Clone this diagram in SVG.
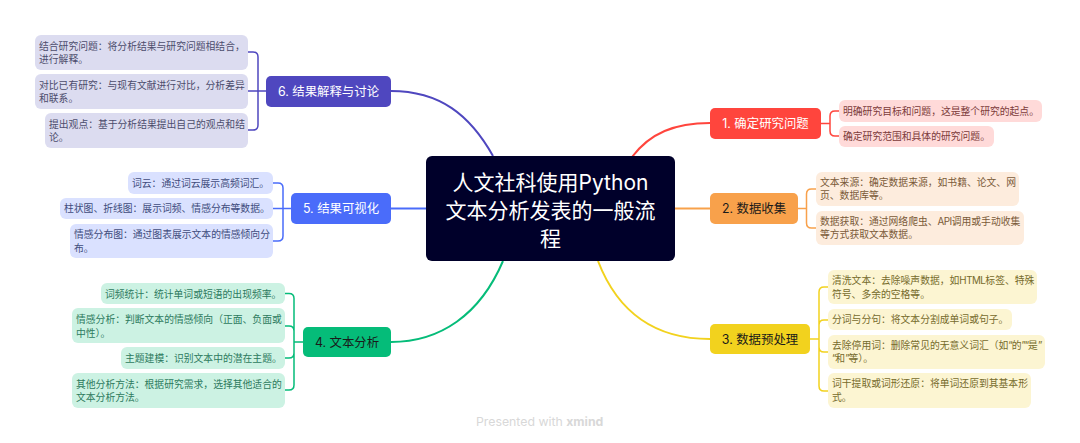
<svg xmlns="http://www.w3.org/2000/svg" width="1080" height="443" viewBox="0 0 1080 443">
<style>
text{font-family:Inter,"Noto Sans CJK SC","Noto Sans",sans-serif}
.c{font-size:9.8px}
.t{font-size:12.4px;text-anchor:middle}
.w{fill:#fff}.k{fill:#1a1a1a}
.l{fill:none}
.m{stroke-width:2}
.b{stroke-width:1.500}
.q{letter-spacing:-1px}
.n{letter-spacing:-.5px}
.c1{fill:#ffdad9}.x1{fill:#7c3b3a}
.c2{fill:#fdecdd}.x2{fill:#7a5a38}
.c3{fill:#fcf5d2}.x3{fill:#766b2c}
.c4{fill:#ccf2e3}.x4{fill:#2c7a5e}
.c5{fill:#dae1ff}.x5{fill:#404c7c}
.c6{fill:#dcdcf0}.x6{fill:#4c4c6c}
</style>
<rect width="1080" height="443" fill="#fff"/>
<g id="connectors">
<g class="l" stroke="#ff453d"><path class="m" d="M632 157C650 133 675 123 710 123"/><path class="b" d="M821 123.500H830M839 111H835Q830 111 830 116V131Q830 136 835 136H839"/></g>
<g class="l" stroke="#f8a14b"><path class="m" d="M675 208.500H710"/><path class="b" d="M798 208.500H806.500M816 189H811.500Q806.500 189 806.500 194V223Q806.500 228 811.500 228H816"/></g>
<g class="l" stroke="#f2d21e"><path class="m" d="M598 261C620 318 660 339 710 339"/><path class="b" d="M810 339H819M828 287H824Q819 287 819 292V386Q819 391 824 391H828M819 325Q819 320 824 320H828M819 347Q819 352 824 352H828"/></g>
<g class="l" stroke="#05bc79"><path class="m" d="M503 261C480 315 440 342 391 342"/><path class="b" d="M303 342H294M285 293.500H289Q294 293.500 294 298.500V385Q294 390 289 390H285M294 331Q294 326 289 326H285M294 353Q294 358 289 358H285"/></g>
<g class="l" stroke="#4a6cfa"><path class="m" d="M426 208.500H391"/><path class="b" d="M291 208.500H273M273 183H278Q283 183 283 188V236Q283 241 278 241H273"/></g>
<g class="l" stroke="#4f47bf"><path class="m" d="M493 156C470 115 440 91 391 91"/><path class="b" d="M266 91H248M248 52H253Q258 52 258 57V125Q258 130 253 130H248"/></g>
</g>
<g id="root"><rect x="426" y="156" width="249" height="105" rx="6" fill="#00002a"/>
<g font-size="21" text-anchor="middle" fill="#fff"><text x="550.500" y="190">人文社科使用Python</text><text x="550.500" y="218">文本分析发表的一般流</text><text x="550.500" y="246">程</text></g></g>
<g id="n1"><rect x="710" y="108" width="111" height="31" rx="5" fill="#ff453d"/><text class="t w" x="765.500" y="128">1. 确定研究问题</text></g>
<g id="n1a"><rect class="c1" x="839" y="100" width="203" height="22" rx="6"/><text class="c x1" x="843" y="114.500">明确研究目标和问题，这是整个研究的起点。</text></g>
<g id="n1b"><rect class="c1" x="839" y="126" width="155" height="21" rx="6"/><text class="c x1" x="843" y="140">确定研究范围和具体的研究问题。</text></g>
<g id="n2"><rect x="710" y="193" width="88" height="31" rx="5" fill="#f8a14b"/><text class="t k" x="754" y="213">2. 数据收集</text></g>
<g id="n2a"><rect class="c2" x="816" y="172" width="203" height="34" rx="6"/><text class="c x2" x="820" y="186">文本来源：确定数据来源，如书籍、论文、网</text><text class="c x2" x="820" y="199">页、数据库等。</text></g>
<g id="n2b"><rect class="c2" x="816" y="211" width="208" height="34" rx="6"/><text class="c x2" x="820" y="225">数据获取：通过网络爬虫、<tspan class="n">API</tspan>调用或手动收集</text><text class="c x2" x="820" y="238">等方式获取文本数据。</text></g>
<g id="n3"><rect x="710" y="324" width="100" height="30" rx="5" fill="#f2d21e"/><text class="t k" x="760" y="344">3. 数据预处理</text></g>
<g id="n3a"><rect class="c3" x="828" y="270" width="209" height="34" rx="6"/><text class="c x3" x="832" y="284">清洗文本：去除噪声数据，如<tspan class="n">HTML</tspan>标签、特殊</text><text class="c x3" x="832" y="298">符号、多余的空格等。</text></g>
<g id="n3b"><rect class="c3" x="828" y="309" width="184" height="21" rx="6"/><text class="c x3" x="832" y="323">分词与分句：将文本分割成单词或句子。</text></g>
<g id="n3c"><rect class="c3" x="828" y="335" width="217" height="34" rx="6"/><text class="c x3" x="832" y="349">去除停用词：删除常见的无意义词汇（如<tspan class="q">“</tspan>的<tspan class="q">”“</tspan>是<tspan class="q">”</tspan></text><text class="c x3" x="832" y="362"><tspan class="q">“</tspan>和<tspan class="q">”</tspan>等）。</text></g>
<g id="n3d"><rect class="c3" x="828" y="373" width="203" height="35" rx="6"/><text class="c x3" x="832" y="387">词干提取或词形还原：将单词还原到其基本形</text><text class="c x3" x="832" y="401">式。</text></g>
<g id="n4"><rect x="303" y="327" width="88" height="30" rx="5" fill="#05bc79"/><text class="t k" x="347" y="347">4. 文本分析</text></g>
<g id="n4a"><rect class="c4" x="101" y="283" width="184" height="21" rx="6"/><text class="c x4" x="105" y="298">词频统计：统计单词或短语的出现频率。</text></g>
<g id="n4b"><rect class="c4" x="72" y="308" width="213" height="35" rx="6"/><text class="c x4" x="76" y="323">情感分析：判断文本的情感倾向（正面、负面或</text><text class="c x4" x="76" y="337">中性）。</text></g>
<g id="n4c"><rect class="c4" x="121" y="347" width="164" height="22" rx="6"/><text class="c x4" x="125" y="362">主题建模：识别文本中的潜在主题。</text></g>
<g id="n4d"><rect class="c4" x="72" y="373" width="213" height="35" rx="6"/><text class="c x4" x="76" y="388">其他分析方法：根据研究需求，选择其他适合的</text><text class="c x4" x="76" y="401">文本分析方法。</text></g>
<g id="n5"><rect x="291" y="193" width="100" height="31" rx="5" fill="#4a6cfa"/><text class="t w" x="341" y="213">5. 结果可视化</text></g>
<g id="n5a"><rect class="c5" x="128" y="172" width="145" height="22" rx="6"/><text class="c x5" x="132" y="187">词云：通过词云展示高频词汇。</text></g>
<g id="n5b"><rect class="c5" x="60" y="198" width="213" height="21" rx="6"/><text class="c x5" x="64" y="212">柱状图、折线图：展示词频、情感分布等数据。</text></g>
<g id="n5c"><rect class="c5" x="70" y="224" width="203" height="34" rx="6"/><text class="c x5" x="74" y="238">情感分布图：通过图表展示文本的情感倾向分</text><text class="c x5" x="74" y="252">布。</text></g>
<g id="n6"><rect x="266" y="76" width="125" height="31" rx="5" fill="#4f47bf"/><text class="t w" x="328.500" y="96">6. 结果解释与讨论</text></g>
<g id="n6a"><rect class="c6" x="35" y="35" width="213" height="35" rx="6"/><text class="c x6" x="39" y="50">结合研究问题：将分析结果与研究问题相结合，</text><text class="c x6" x="39" y="63">进行解释。</text></g>
<g id="n6b"><rect class="c6" x="35" y="74" width="213" height="35" rx="6"/><text class="c x6" x="39" y="89">对比已有研究：与现有文献进行对比，分析差异</text><text class="c x6" x="39" y="102">和联系。</text></g>
<g id="n6c"><rect class="c6" x="45" y="113" width="203" height="35" rx="6"/><text class="c x6" x="49" y="128">提出观点：基于分析结果提出自己的观点和结</text><text class="c x6" x="49" y="141">论。</text></g>
<text x="476" y="426" font-size="12.300" fill="#d8d8d8">Presented with <tspan font-weight="700">xmind</tspan></text>
</svg>
